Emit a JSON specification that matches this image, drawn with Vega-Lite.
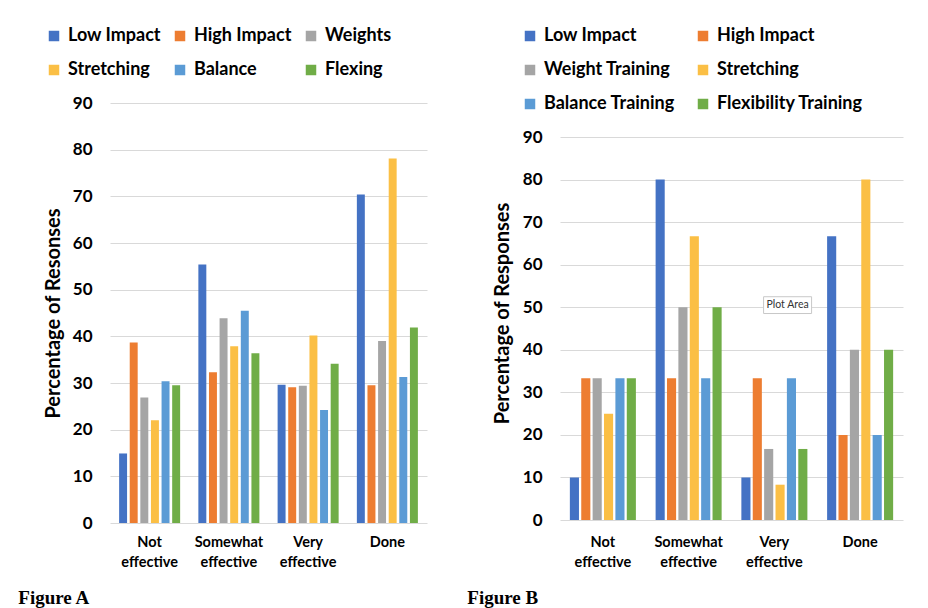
{
  "$schema": "https://vega.github.io/schema/vega-lite/v6.json",
  "background": "white",
  "padding": {"left": 18, "top": 27, "right": 5, "bottom": 0},
  "datasets": {
    "a": [
      {"cat": "Not effective", "series": "Low Impact", "value": 14.9},
      {"cat": "Not effective", "series": "High Impact", "value": 38.7},
      {"cat": "Not effective", "series": "Weights", "value": 26.9},
      {"cat": "Not effective", "series": "Stretching", "value": 22.0},
      {"cat": "Not effective", "series": "Balance", "value": 30.4},
      {"cat": "Not effective", "series": "Flexing", "value": 29.5},
      {"cat": "Somewhat effective", "series": "Low Impact", "value": 55.4},
      {"cat": "Somewhat effective", "series": "High Impact", "value": 32.3},
      {"cat": "Somewhat effective", "series": "Weights", "value": 43.9},
      {"cat": "Somewhat effective", "series": "Stretching", "value": 37.9},
      {"cat": "Somewhat effective", "series": "Balance", "value": 45.5},
      {"cat": "Somewhat effective", "series": "Flexing", "value": 36.4},
      {"cat": "Very effective", "series": "Low Impact", "value": 29.6},
      {"cat": "Very effective", "series": "High Impact", "value": 29.1},
      {"cat": "Very effective", "series": "Weights", "value": 29.4},
      {"cat": "Very effective", "series": "Stretching", "value": 40.2},
      {"cat": "Very effective", "series": "Balance", "value": 24.2},
      {"cat": "Very effective", "series": "Flexing", "value": 34.1},
      {"cat": "Done", "series": "Low Impact", "value": 70.4},
      {"cat": "Done", "series": "High Impact", "value": 29.5},
      {"cat": "Done", "series": "Weights", "value": 39.0},
      {"cat": "Done", "series": "Stretching", "value": 78.1},
      {"cat": "Done", "series": "Balance", "value": 31.3},
      {"cat": "Done", "series": "Flexing", "value": 41.9}
    ],
    "b": [
      {"cat": "Not effective", "series": "Low Impact", "value": 10},
      {"cat": "Not effective", "series": "High Impact", "value": 33.3},
      {"cat": "Not effective", "series": "Weight Training", "value": 33.3},
      {"cat": "Not effective", "series": "Stretching", "value": 25},
      {"cat": "Not effective", "series": "Balance Training", "value": 33.3},
      {"cat": "Not effective", "series": "Flexibility Training", "value": 33.3},
      {"cat": "Somewhat effective", "series": "Low Impact", "value": 80},
      {"cat": "Somewhat effective", "series": "High Impact", "value": 33.3},
      {"cat": "Somewhat effective", "series": "Weight Training", "value": 50},
      {"cat": "Somewhat effective", "series": "Stretching", "value": 66.7},
      {"cat": "Somewhat effective", "series": "Balance Training", "value": 33.3},
      {"cat": "Somewhat effective", "series": "Flexibility Training", "value": 50},
      {"cat": "Very effective", "series": "Low Impact", "value": 10},
      {"cat": "Very effective", "series": "High Impact", "value": 33.3},
      {"cat": "Very effective", "series": "Weight Training", "value": 16.7},
      {"cat": "Very effective", "series": "Stretching", "value": 8.3},
      {"cat": "Very effective", "series": "Balance Training", "value": 33.3},
      {"cat": "Very effective", "series": "Flexibility Training", "value": 16.7},
      {"cat": "Done", "series": "Low Impact", "value": 66.7},
      {"cat": "Done", "series": "High Impact", "value": 20},
      {"cat": "Done", "series": "Weight Training", "value": 40},
      {"cat": "Done", "series": "Stretching", "value": 80},
      {"cat": "Done", "series": "Balance Training", "value": 20},
      {"cat": "Done", "series": "Flexibility Training", "value": 40}
    ],
    "note": [
      {"cat": "Very effective", "value": 50.5, "label": "Plot Area"}
    ]
  },
  "spacing": 40,
  "resolve": {
    "scale": {"color": "independent", "x": "independent", "y": "independent", "xOffset": "independent"},
    "legend": {"color": "independent"},
    "axis": {"x": "independent", "y": "independent"}
  },
  "hconcat": [
    {
      "width": 317,
      "height": 420,
      "title": {"text": "Figure A", "orient": "bottom", "anchor": "start", "frame": "bounds", "dx": -25, "offset": 20},
      "data": {"name": "a"},
      "mark": {"type": "bar"},
      "encoding": {
        "x": {
          "field": "cat", "type": "nominal",
          "sort": ["Not effective", "Somewhat effective", "Very effective", "Done"],
          "scale": {"paddingInner": 0.23, "paddingOuter": 0.115},
          "axis": {"title": null, "labelPadding": 12}
        },
        "xOffset": {
          "field": "series", "type": "nominal",
          "sort": ["Low Impact", "High Impact", "Weights", "Stretching", "Balance", "Flexing"],
          "scale": {"paddingInner": 0.25}
        },
        "y": {
          "field": "value", "type": "quantitative",
          "scale": {"domain": [0, 90], "nice": false},
          "axis": {"title": "Percentage of Resonses", "values": [0, 10, 20, 30, 40, 50, 60, 70, 80, 90], "labelPadding": 18, "titlePadding": 9}
        },
        "color": {
          "field": "series", "type": "nominal",
          "scale": {
            "domain": ["Low Impact", "High Impact", "Weights", "Stretching", "Balance", "Flexing"],
            "range": ["#4472C4", "#ED7D31", "#A5A5A5", "#FBBF45", "#5B9BD5", "#70AD47"]
          },
          "legend": {"orient": "none", "legendX": -65, "legendY": -76, "columns": 3, "columnPadding": 10, "rowPadding": 16, "direction": "horizontal"}
        }
      }
    },
    {
      "width": 343,
      "height": 420,
      "title": {"text": "Figure B", "orient": "bottom", "anchor": "start", "frame": "bounds", "dx": -25, "offset": 20},
      "layer": [
        {
          "data": {"name": "b"},
          "mark": {"type": "bar"},
          "encoding": {
            "x": {
              "field": "cat", "type": "nominal",
              "sort": ["Not effective", "Somewhat effective", "Very effective", "Done"],
              "scale": {"paddingInner": 0.23, "paddingOuter": 0.115},
              "axis": {"title": null, "labelPadding": 12}
            },
            "xOffset": {
              "field": "series", "type": "nominal",
              "sort": ["Low Impact", "High Impact", "Weight Training", "Stretching", "Balance Training", "Flexibility Training"],
              "scale": {"paddingInner": 0.2}
            },
            "y": {
              "field": "value", "type": "quantitative",
              "scale": {"domain": [-0.7, 98], "nice": false, "zero": false},
              "axis": {"title": "Percentage of Responses", "values": [0, 10, 20, 30, 40, 50, 60, 70, 80, 90], "labelPadding": 18, "titlePadding": 10}
            },
            "color": {
              "field": "series", "type": "nominal",
              "scale": {
                "domain": ["Low Impact", "High Impact", "Weight Training", "Stretching", "Balance Training", "Flexibility Training"],
                "range": ["#4472C4", "#ED7D31", "#A5A5A5", "#FBBF45", "#5B9BD5", "#70AD47"]
              },
              "legend": {"orient": "none", "legendX": -39, "legendY": -76, "columns": 2, "columnPadding": 19, "rowPadding": 16, "direction": "horizontal"}
            }
          }
        },
        {
          "data": {"name": "note"},
          "mark": {"type": "point", "filled": true, "fill": "white", "stroke": "#c8c8c8", "strokeWidth": 1, "opacity": 1, "size": 2304, "shape": "M-1,-0.35L1,-0.35L1,0.35L-1,0.35Z"},
          "encoding": {
            "x": {"field": "cat", "type": "nominal", "bandPosition": 0.7, "sort": ["Not effective", "Somewhat effective", "Very effective", "Done"]},
            "y": {"field": "value", "type": "quantitative"}
          }
        },
        {
          "data": {"name": "note"},
          "mark": {"type": "text", "fontSize": 10.5, "font": "Lato", "color": "#333333"},
          "encoding": {
            "x": {"field": "cat", "type": "nominal", "bandPosition": 0.7, "sort": ["Not effective", "Somewhat effective", "Very effective", "Done"]},
            "y": {"field": "value", "type": "quantitative"},
            "text": {"field": "label"}
          }
        }
      ]
    }
  ],
  "config": {
    "view": {"stroke": null},
    "font": "Lato",
    "title": {"font": "Liberation Serif", "fontSize": 19, "fontWeight": "bold", "color": "black", "baseline": "top"},
    "axis": {
      "labelFont": "Lato", "labelFontWeight": "bold", "labelFontSize": 17, "labelColor": "black",
      "titleFont": "Lato", "titleFontWeight": "bold", "titleFontSize": 20, "titleColor": "black",
      "gridColor": "#d9d9d9", "gridWidth": 1, "domain": false, "ticks": false
    },
    "axisX": {
      "labelAngle": 0, "labelFontSize": 14.5, "labelFont": "Lato",
      "labelExpr": "split(datum.label, ' ')", "labelLineHeight": 20, "labelBaseline": "top"
    },
    "axisY": {"grid": true},
    "legend": {
      "title": null, "labelFont": "Lato", "labelFontSize": 18, "labelFontWeight": "bold", "labelColor": "black",
      "symbolType": "square", "symbolSize": 110, "labelOffset": 5, "symbolStrokeWidth": 0, "padding": 0
    }
  }
}
